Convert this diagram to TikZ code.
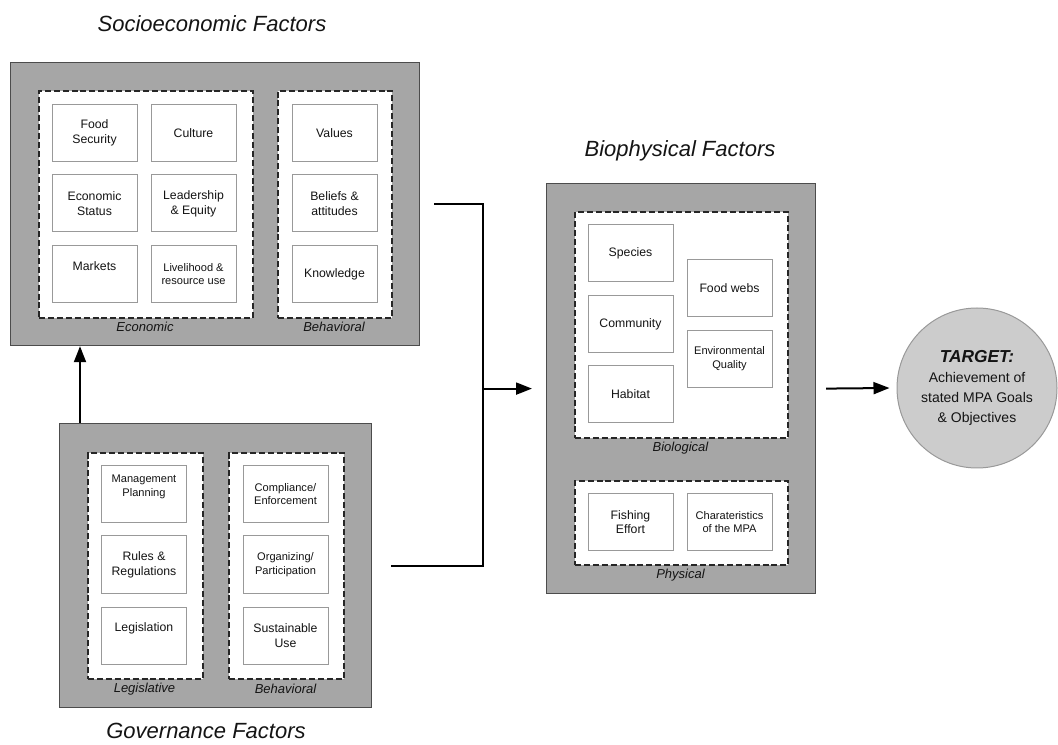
\documentclass[tikz,border=0pt]{standalone}
\usepackage{fontspec}
\setmainfont{Liberation Sans}
\usetikzlibrary{arrows.meta,calc}
\definecolor{panelgray}{RGB}{166,166,166}
\definecolor{circgray}{RGB}{204,204,204}
\definecolor{txt}{RGB}{20,20,20}
\begin{document}
\begin{tikzpicture}[x=0.75pt,y=-0.75pt,
  every node/.style={text=txt},
  panel/.style={draw=black!70,fill=panelgray,line width=0.9pt,anchor=north west,inner sep=0pt},
  group/.style={draw=black!85,fill=white,dash pattern=on 4.5pt off 2.2pt,line width=1.4pt,anchor=north west,inner sep=0pt},
  item/.style={draw=black!40,fill=white,line width=0.75pt,minimum width=63.75pt,minimum height=42.75pt,align=center,font=\fontsize{9.2}{11}\selectfont,inner sep=1pt},
  small/.style={font=\fontsize{8.3}{10.3}\selectfont},
  glabel/.style={font=\itshape\fontsize{9.75}{11}\selectfont},
  title/.style={font=\itshape\fontsize{16.5}{19}\selectfont},
  conn/.style={line width=1.5pt,black},
  arr/.style={conn,-{Triangle[length=12pt,width=9pt]}},
]
\useasboundingbox (0,0) rectangle (1058,745);

% ---------------- Socioeconomic ----------------
\node[title] (tsocio) at (212,24) {Socioeconomic Factors};
\node[panel,minimum width=306.75pt,minimum height=212.25pt] (socio) at (10,62) {};
\node[group,minimum width=160.5pt,minimum height=170.25pt] (econ) at (38,90) {};
\node[group,minimum width=85.5pt,minimum height=170.25pt] (sbeh) at (277,90) {};
\node[glabel] (lecon) at (145,327) {Economic};
\node[glabel] (lsbeh) at (334,327) {Behavioral};

\node[item] (food) at (94.5,133) {Food\\Security};
\node[item] (cult) at (193.5,133) {Culture};
\node[item] (estat) at (94.5,203.5) {Economic\\Status};
\node[item] (lead) at (193.5,203.5) {Leadership\\\& Equity};
\node[item,text depth=12pt] (mark) at (94.5,274) {Markets};
\node[item,small] (live) at (193.5,274) {Livelihood \&\\resource use};
\node[item] (vals) at (334.5,133) {Values};
\node[item] (beli) at (334.5,203.5) {Beliefs \&\\attitudes};
\node[item] (know) at (334.5,274) {Knowledge};

% ---------------- Governance ----------------
\node[panel,minimum width=234pt,minimum height=213pt] (gov) at (59,423) {};
\node[group,minimum width=86.25pt,minimum height=169.5pt] (legis) at (87,452) {};
\node[group,minimum width=86.25pt,minimum height=169.5pt] (gbeh) at (228,452) {};
\node[glabel] (llegis) at (144.5,689) {Legislative};
\node[glabel] (lgbeh) at (285.5,689) {Behavioral};
\node[title] (tgov) at (206,731) {Governance Factors};

\node[item,small,text depth=13pt] (mgmt) at (144,494) {Management\\Planning};
\node[item] (rules) at (144,564.5) {Rules \&\\Regulations};
\node[item,text depth=12pt] (legi) at (144,635.5) {Legislation};
\node[item,small] (comp) at (285.5,494) {Compliance/\\Enforcement};
\node[item,small] (orga) at (285.5,564.5) {Organizing/\\Participation};
\node[item] (sust) at (285.5,635.5) {Sustainable\\Use};

% ---------------- Biophysical ----------------
\node[title] (tbio) at (680,151) {Biophysical Factors};
\node[panel,minimum width=201.75pt,minimum height=307.5pt] (bio) at (546,183) {};
\node[group,minimum width=159.75pt,minimum height=169.5pt] (biol) at (574,211) {};
\node[group,minimum width=159.75pt,minimum height=63pt] (phys) at (574,480) {};
\node[glabel] (lbiol) at (680.5,448) {Biological};
\node[glabel] (lphys) at (680.5,575) {Physical};

\node[item] (spec) at (630.5,253) {Species};
\node[item] (comm) at (630.5,324) {Community};
\node[item] (habi) at (630.5,394.5) {Habitat};
\node[item] (fweb) at (729.5,288.5) {Food webs};
\node[item,small] (envq) at (729.5,359) {Environmental\\Quality};
\node[item] (fish) at (630.5,522) {Fishing\\Effort};
\node[item,small] (char) at (729.5,522) {Charateristics\\of the MPA};

% ---------------- Target ----------------
\node[circle,draw=black!40,fill=circgray,line width=0.75pt,minimum size=120pt,align=center,
      font=\fontsize{10.5}{15}\selectfont,inner sep=0pt] (target) at (977,388)
  {{\bfseries\itshape\fontsize{13}{15}\selectfont TARGET:}\\Achievement of\\stated MPA Goals\\\& Objectives};

% ---------------- Connectors ----------------
\coordinate (junc) at ($(bio.west)+(-63,0)$);
\coordinate (sout) at ($(socio.east)+(14,0)$);
\coordinate (gout) at ($(gov.east)+(19,0)$);
\coordinate (bin) at ($(bio.west)+(-14,0)$);
\coordinate (gup) at ($(gov.north west)+(21,0)$);
\coordinate (bout) at ($(bio.east)+(10,0)$);
\coordinate (tin) at ($(target.west)+(-7,0)$);
\draw[conn] (sout) -| (junc);
\draw[conn] (gout) -| (junc);
\draw[arr] (junc) -- (bin);
\draw[arr] (gup) -- (gup |- socio.south);
\draw[arr] (bout) -- (tin);
\end{tikzpicture}
\end{document}
